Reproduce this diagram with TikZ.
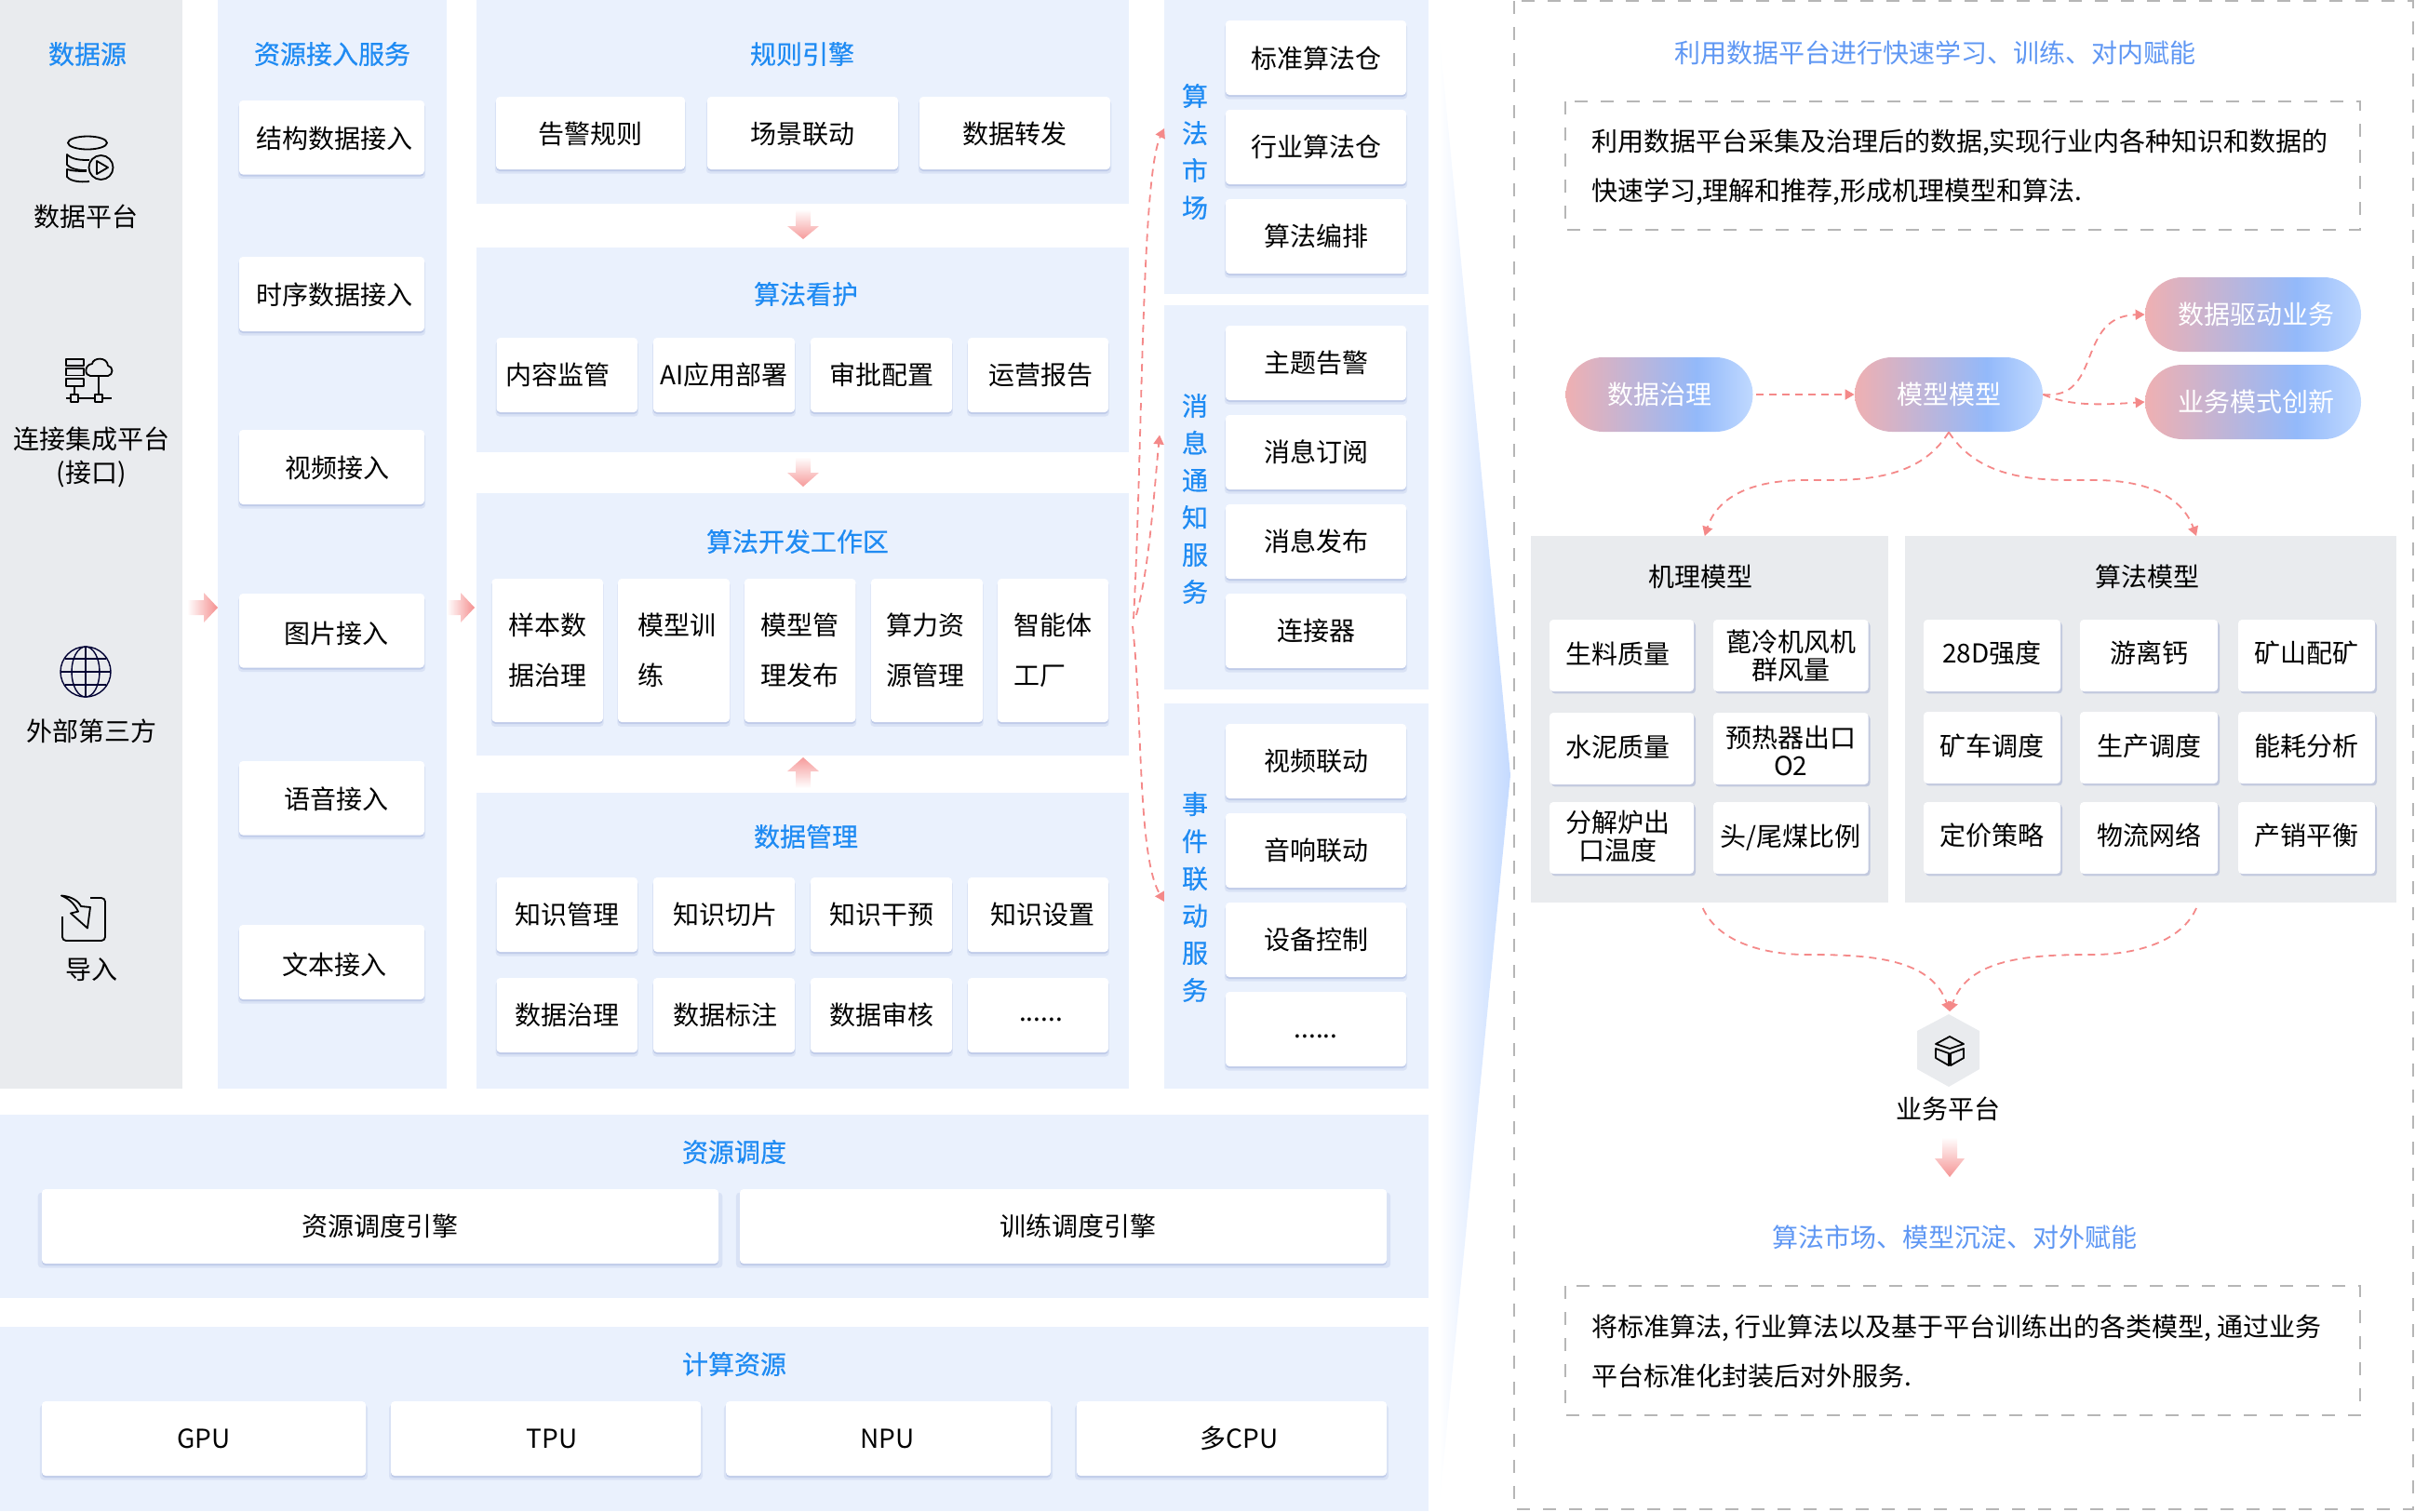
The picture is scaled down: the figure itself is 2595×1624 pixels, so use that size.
\documentclass[tikz,border=0pt]{standalone}
\usepackage{fontspec}
\setmainfont{Noto Sans CJK SC}
\newfontfamily\headfont[FakeBold=0.5]{Noto Sans CJK SC}
\usetikzlibrary{arrows.meta,fit,shadows}
\definecolor{panelblue}{HTML}{EAF1FD}
\definecolor{panelgray}{HTML}{E9EBEE}
\definecolor{headblue}{HTML}{1F8BF3}
\definecolor{sidehead}{HTML}{5F97F3}
\definecolor{flowred}{HTML}{F48989}
\definecolor{cardshade}{HTML}{B4C2E4}
\definecolor{grayshade}{HTML}{C2C9DE}
\definecolor{funnelblue}{HTML}{C4DAFF}
\definecolor{dashgray}{HTML}{B6B6B6}
\definecolor{pillpink}{HTML}{EFB0B2}
\definecolor{pillblue}{HTML}{93B9FA}
\definecolor{pilllight}{HTML}{C0D9FF}
\pgfdeclarehorizontalshading{pillshade}{100bp}{color(0bp)=(pillpink); color(25bp)=(pillpink); color(60bp)=(pillblue); color(75bp)=(pilllight); color(100bp)=(pilllight)}
\begin{document}
\begin{tikzpicture}[x=0.5pt,y=-0.5pt,font=\fontsize{14}{17}\selectfont,
	bluepanel/.style={fill=panelblue,draw=none},
	graypanel/.style={fill=panelgray,draw=none},
	fitpanel/.style={inner sep=0pt,outer sep=0pt},
	card/.style={fill=white,draw=none,rounded corners=2pt,
		general shadow={shadow xshift=0pt,shadow yshift=-2pt,shadow scale=1.012,fill=cardshade,opacity=.3},
		general shadow={shadow xshift=0pt,shadow yshift=-1pt,fill=cardshade,opacity=.7}},
	graycard/.style={fill=white,draw=none,rounded corners=2pt,
		general shadow={shadow xshift=1pt,shadow yshift=-1.2pt,fill=grayshade}},
	head/.style={text=headblue,font=\fontsize{14}{17}\headfont},
	sidetitle/.style={text=sidehead},
	stack/.style={text=headblue,align=center,font=\fontsize{14}{20}\headfont},
	tall/.style={align=left,font=\fontsize{14}{27}\selectfont},
	tight/.style={align=center,font=\fontsize{14}{15}\selectfont},
	para/.style={anchor=west,align=left,font=\fontsize{14}{26.5}\selectfont},
	dashbox/.style={draw=dashgray,line width=1pt,dash pattern=on 7pt off 7pt},
	pill/.style={shading=pillshade,rounded corners=20pt,text=white,inner sep=0pt,minimum height=40pt},
	flow/.style={draw=flowred,line width=.9pt,dash pattern=on 4pt off 3pt,-{Triangle[length=5pt,width=5.5pt]}},
	icon/.style={draw=black,line width=.9pt,line join=round},
	lower/.style={yshift=-.5pt},
	access/.style={xshift=1.5pt,yshift=-.6pt}]
	\useasboundingbox (0,0) rectangle (2595,1624);
	\shade[left color=white,right color=funnelblue] (1546,31) -- (1623,833) -- (1546,1624) -- cycle;
	\draw[graypanel] (0,0) rectangle (196,1170);
	\draw[bluepanel] (234,0) rectangle (480,1170);
	\draw[bluepanel] (512,0) rectangle (1213,219);
	\draw[bluepanel] (512,266) rectangle (1213,486);
	\node[bluepanel,fitpanel,fit={(512,530)(1213,812)}] (dev) {};
	\draw[bluepanel] (512,852) rectangle (1213,1170);
	\node[bluepanel,fitpanel,fit={(1251,0)(1535,316)}] (market) {};
	\node[bluepanel,fitpanel,fit={(1251,328)(1535,741)}] (notice) {};
	\node[bluepanel,fitpanel,fit={(1251,756)(1535,1170)}] (event) {};
	\draw[bluepanel] (0,1198) rectangle (1535,1395);
	\draw[bluepanel] (0,1426) rectangle (1535,1624);

	\node (srchead) at (94,58) [head] {数据源};
	\node (srcdata) at (92,233) {数据平台};
	\node (srclink) at (98,491) [align=center,font=\fontsize{14}{18}\selectfont] {连接集成平台\\(接口)};
	\node (srcext) at (98,786) {外部第三方};
	\node (srcimp) at (98,1042.5) {导入};

	\draw[icon] (94,153.5) ellipse [x radius=21,y radius=7];
	\draw[icon] (96,172) .. controls (88,172) and (78,172) .. (72,166) -- (72,177) .. controls (78,183) and (88,183) .. (93,183);
	\draw[icon] (93,184) .. controls (86,184) and (78,184) .. (72,182) -- (72,190) .. controls (76,195) and (86,196) .. (96,195);
	\draw[icon] (108.5,180) circle [radius=13];
	\draw[icon] (104,173) -- (116,180) -- (104,187) -- cycle;

	\draw[icon] (71,386) rectangle (90,393);
	\draw[icon] (71,396) rectangle (90,403.5);
	\draw[icon] (71,407) rectangle (90,415);
	\draw[icon] (80,415) -- (80,424);
	\draw[icon] (76,424) rectangle (84,432);
	\draw[icon] (102,424) rectangle (110,432);
	\draw[icon] (71,428) -- (76,428) (84,428) -- (102,428) (110,428) -- (120,428);
	\draw[icon] (106,405) -- (106,424);
	\draw[icon] (97,404) -- (116,404) .. controls (122,403) and (122,394) .. (116,393) .. controls (115,383) and (100,384) .. (99,391) .. controls (90,392) and (91,404) .. (97,404) -- cycle;

	\draw[icon,draw=black!80!blue,line width=.7pt] (92,722) circle [radius=27];
	\draw[icon,draw=black!80!blue,line width=.7pt] (92,722) ellipse [x radius=15,y radius=27];
	\draw[icon,draw=black!80!blue,line width=.7pt] (92,695) -- (92,749);
	\draw[icon,draw=black!80!blue,line width=.7pt] (65,722) -- (119,722) (70,708) -- (114,708) (70,736) -- (114,736);

	\draw[icon,rounded corners=2pt] (97,965) -- (113,965) -- (113,1011) -- (67,1011) -- (67,985);
	\draw[icon,fill=panelgray] (66,962.5) .. controls (73,963) and (83,966) .. (87,974) -- (97,975) -- (94,997.5) -- (76,981.5) -- (84,979.6) .. controls (80,971) and (74,966) .. (66,962.5) -- cycle;

	\shade[left color=white,middle color=flowred!55,right color=flowred!95] (201,645) -- (219,645) -- (219,637) -- (234,653) -- (219,669) -- (219,661) -- (201,661) -- cycle;
	\shade[left color=white,middle color=flowred!55,right color=flowred!95] (480,645) -- (495,645) -- (495,637) -- (510,653) -- (495,669) -- (495,661) -- (480,661) -- cycle;
	\shade[top color=white,middle color=flowred!50,bottom color=flowred!85] (855,225) -- (871,225) -- (871,243) -- (880,243) -- (863,257) -- (846,243) -- (855,243) -- cycle;
	\shade[top color=white,middle color=flowred!50,bottom color=flowred!85] (855,491) -- (871,491) -- (871,508) -- (880,508) -- (863,523) -- (846,508) -- (855,508) -- cycle;
	\shade[bottom color=white,middle color=flowred!50,top color=flowred!85] (855,847) -- (871,847) -- (871,829) -- (880,829) -- (863,814) -- (846,829) -- (855,829) -- cycle;

	\node (acchead) at (357,58) [head] {资源接入服务};
	\draw[card] (257,108) rectangle (456,187.5) node[midway,access] (accstruct) {结构数据接入};
	\draw[card] (257,276) rectangle (456,356) node[midway,access] (acctime) {时序数据接入};
	\draw[card] (257,462) rectangle (456,542) node[midway,access,xshift=1.5pt] (accvideo) {视频接入};
	\draw[card] (257,638) rectangle (456,717.5) node[midway,access,xshift=1pt,yshift=-1pt] (accimage) {图片接入};
	\draw[card] (257,818) rectangle (456,897.5) node[midway,access,xshift=1pt] (accvoice) {语音接入};
	\draw[card] (257,994) rectangle (456,1074) node[midway,access,yshift=-1pt] (acctext) {文本接入};

	\node (rulehead) at (862,58) [head] {规则引擎};
	\draw[card] (533,104) rectangle (736,182) node[midway,lower] (rulealarm) {告警规则};
	\draw[card] (760,104) rectangle (965,182) node[midway,lower] (rulescene) {场景联动};
	\draw[card] (988,104) rectangle (1193,182) node[midway,lower] (ruledata) {数据转发};

	\node (carehead) at (866,316) [head] {算法看护};
	\draw[card] (533.5,363) rectangle (685,443) node[midway,xshift=-5pt] (carecontent) {内容监管};
	\draw[card] (702,363) rectangle (854,443) node[midway] (careai) {AI应用部署};
	\draw[card] (871,363) rectangle (1023,443) node[midway] (careaudit) {审批配置};
	\draw[card] (1040,363) rectangle (1191,443) node[midway,xshift=1.5pt] (carereport) {运营报告};

	\node (devhead) at (857,582) [head] {算法开发工作区};
	\draw[card] (528.5,622) rectangle (648,776) node[midway,tall] (devsample) {样本数\\据治理};
	\draw[card] (664,622) rectangle (784,776) node[midway,tall,xshift=1.5pt] (devtrain) {模型训\\练};
	\draw[card] (800,622) rectangle (919.5,776) node[midway,tall] (devrelease) {模型管\\理发布};
	\draw[card] (936,622) rectangle (1056,776) node[midway,tall,xshift=-1pt] (devpower) {算力资\\源管理};
	\draw[card] (1072,622) rectangle (1191,776) node[midway,tall] (devagent) {智能体\\工厂};

	\node (datahead) at (866,899) [head] {数据管理};
	\draw[card] (533.5,943) rectangle (685,1023) node[midway] (knowmanage) {知识管理};
	\draw[card] (702,943) rectangle (854,1023) node[midway,xshift=.8pt] (knowcut) {知识切片};
	\draw[card] (871,943) rectangle (1023,1023) node[midway] (knowdry) {知识干预};
	\draw[card] (1040,943) rectangle (1191,1023) node[midway,xshift=2.5pt] (knowset) {知识设置};
	\draw[card] (533.5,1051) rectangle (685,1131) node[midway] (datagov) {数据治理};
	\draw[card] (702,1051) rectangle (854,1131) node[midway,xshift=.8pt] (datalabel) {数据标注};
	\draw[card] (871,1051) rectangle (1023,1131) node[midway] (dataaudit) {数据审核};
	\draw[card] (1040,1051) rectangle (1191,1131) node[midway,xshift=1.5pt,yshift=-2.5pt] (datamore) {......};

	\node (markethead) at (1284,163) [stack] {算\\法\\市\\场};
	\draw[card] (1317,22) rectangle (1511,102) node[midway,lower] (algostd) {标准算法仓};
	\draw[card] (1317,118) rectangle (1511,198) node[midway] (algoind) {行业算法仓};
	\draw[card] (1317,214) rectangle (1511,294) node[midway] (algoflow) {算法编排};

	\node (noticehead) at (1284,536) [stack] {消\\息\\通\\知\\服\\务};
	\draw[card] (1317,350) rectangle (1511,430) node[midway] (msgtopic) {主题告警};
	\draw[card] (1317,446) rectangle (1511,526) node[midway] (msgsub) {消息订阅};
	\draw[card] (1317,542) rectangle (1511,622) node[midway] (msgpub) {消息发布};
	\draw[card] (1317,638) rectangle (1511,718) node[midway] (msgconn) {连接器};

	\node (eventhead) at (1284,964) [stack] {事\\件\\联\\动\\服\\务};
	\draw[card] (1317,778) rectangle (1511,858) node[midway] (evvideo) {视频联动};
	\draw[card] (1317,874) rectangle (1511,954) node[midway] (evsound) {音响联动};
	\draw[card] (1317,970) rectangle (1511,1050) node[midway] (evdevice) {设备控制};
	\draw[card] (1317,1066) rectangle (1511,1146) node[midway,yshift=-4pt] (evmore) {......};

	\node (schedhead) at (789,1238) [head] {资源调度};
	\draw[card] (45,1278) rectangle (772,1358) node[midway] (schedres) {资源调度引擎};
	\draw[card] (795,1278) rectangle (1490,1358) node[midway,xshift=8pt] (schedtrain) {训练调度引擎};

	\node (comphead) at (789,1466) [head] {计算资源};
	\draw[card] (45,1506) rectangle (393,1586) node[midway] (compgpu) {GPU};
	\draw[card] (420,1506) rectangle (753,1586) node[midway,xshift=3.3pt] (comptpu) {TPU};
	\draw[card] (780,1506) rectangle (1129,1586) node[midway,xshift=-.6pt] (compnpu) {NPU};
	\draw[card] (1157,1506) rectangle (1490,1586) node[midway,xshift=4pt] (compcpu) {多CPU};

	\coordinate (fork) at (1218,665);
	\draw[flow] (fork) .. controls (1228,480) and (1226,190) .. ([yshift=10pt]market.west);
	\draw[flow] (dev.east) ++(8,-10) .. controls (1235,610) and (1240,530) .. ([shift={(-2.5pt,33.5pt)}]notice.west);
	\draw[flow] (fork) ++(-1,8) .. controls (1228,770) and (1222,920) .. ([yshift=-3pt]event.west);

	\draw[dashbox] (1627,1) rectangle (2593,1622);
	\node (learnhead) at (2079,57) [sidetitle] {利用数据平台进行快速学习、训练、对内赋能};
	\draw[dashbox] (1682,109) rectangle (2536,247);
	\node (learntext) at (1703,180) [para] {利用数据平台采集及治理后的数据,实现行业内各种知识和数据的\\快速学习,理解和推荐,形成机理模型和算法.};

	\node[pill,minimum width=100.5pt] (govern) at (1783,424) {数据治理};
	\node[pill,minimum width=101pt] (model) at (2094,424) {模型模型};
	\node[pill,minimum width=116pt] (drive) at (2421,338) {\hspace{3pt}数据驱动业务};
	\node[pill,minimum width=116pt] (innov) at (2421,432) {\hspace{3pt}业务模式创新};
	\draw[flow,shorten <=1.5pt] (govern.east) -- (model.west);
	\draw[flow] (model.east) .. controls (2260,430) and (2230,340) .. (drive.west);
	\draw[flow] (model.east) .. controls (2225,437) and (2260,435) .. (innov.west);

	\node[graypanel,fitpanel,fit={(1645,576)(2028.5,970)}] (mech) {};
	\node[graypanel,fitpanel,fit={(2047,576)(2575,970)}] (algo) {};
	\draw[flow] (model.south) .. controls (2060,520) and (1990,516) .. (1940,516) .. controls (1880,516) and (1845,535) .. ([xshift=-2.5pt]mech.north);
	\draw[flow] (model.south) .. controls (2130,520) and (2200,516) .. (2250,516) .. controls (2310,516) and (2345,535) .. ([xshift=24.5pt]algo.north);

	\node (mechhead) at (1827,620) {机理模型};
	\draw[graycard] (1665,666) rectangle (1820,743) node[midway,xshift=-2pt,yshift=.7pt] (mechraw) {生料质量};
	\draw[graycard] (1841,666) rectangle (2007.5,743) node[midway,tight] (mechfan) {蓖冷机风机\\群风量};
	\draw[graycard] (1665,766) rectangle (1820,843) node[midway,xshift=-2pt,yshift=1pt] (mechcement) {水泥质量};
	\draw[graycard] (1841,766) rectangle (2007.5,843) node[midway,tight,yshift=-1pt] (mechheat) {预热器出口\\O2};
	\draw[graycard] (1665,862) rectangle (1820,939) node[midway,tight,xshift=-2pt,yshift=.8pt] (mechkiln) {分解炉出\\口温度};
	\draw[graycard] (1841,862) rectangle (2007.5,939) node[midway] (mechcoal) {头/尾煤比例};

	\node (algohead) at (2307,620) {算法模型};
	\draw[graycard] (2067,666) rectangle (2214,743) node[midway,yshift=1.5pt] (algostr) {28D强度};
	\draw[graycard] (2235,666) rectangle (2383,743) node[midway,yshift=1.5pt] (algocal) {游离钙};
	\draw[graycard] (2405,666) rectangle (2552,743) node[midway,yshift=1.5pt] (algomine) {矿山配矿};
	\draw[graycard] (2067,765) rectangle (2214,842) node[midway,yshift=1pt] (algotruck) {矿车调度};
	\draw[graycard] (2235,765) rectangle (2383,842) node[midway,yshift=1pt] (algoprod) {生产调度};
	\draw[graycard] (2405,765) rectangle (2552,842) node[midway,yshift=1pt] (algoenergy) {能耗分析};
	\draw[graycard] (2067,862) rectangle (2214,939) node[midway,yshift=1.5pt] (algoprice) {定价策略};
	\draw[graycard] (2235,862) rectangle (2383,939) node[midway,yshift=1.5pt] (algonet) {物流网络};
	\draw[graycard] (2405,862) rectangle (2552,939) node[midway,yshift=1.5pt] (algobal) {产销平衡};

	\fill[panelgray] (2094,1090) -- (2127,1108) -- (2127,1149) -- (2094,1168) -- (2060,1149) -- (2060,1108) -- cycle;
	\draw[icon] (2095,1114) -- (2110,1122) -- (2095,1127) -- (2080,1122) -- cycle;
	\draw[icon] (2080,1127) -- (2080,1137) -- (2094,1145) -- (2094,1132) -- cycle;
	\draw[icon] (2110,1127) -- (2110,1137) -- (2096,1145) -- (2096,1132) -- cycle;
	\coordinate (platin) at (2095,1087);
	\draw[flow] ([yshift=-3pt]mech.south) ++(-7,0) .. controls (1845,1010) and (1890,1026) .. (1943,1026) .. controls (2010,1026) and (2075,1030) .. (platin);
	\draw[flow] ([xshift=24.5pt,yshift=-3pt]algo.south) .. controls (2345,1010) and (2300,1026) .. (2247,1026) .. controls (2180,1026) and (2115,1030) .. (platin);
	\node (platform) at (2093,1192) {业务平台};
	\shade[top color=white,middle color=flowred!55,bottom color=flowred!90] (2087,1222) -- (2103,1222) -- (2103,1245) -- (2111,1245) -- (2095,1265) -- (2079,1245) -- (2087,1245) -- cycle;

	\node (outhead) at (2100,1330) [sidetitle] {算法市场、模型沉淀、对外赋能};
	\draw[dashbox] (1682,1382) rectangle (2536,1521);
	\node (outtext) at (1703,1452) [para] {将标准算法, 行业算法以及基于平台训练出的各类模型, 通过业务\\平台标准化封装后对外服务.};
\end{tikzpicture}
\end{document}
